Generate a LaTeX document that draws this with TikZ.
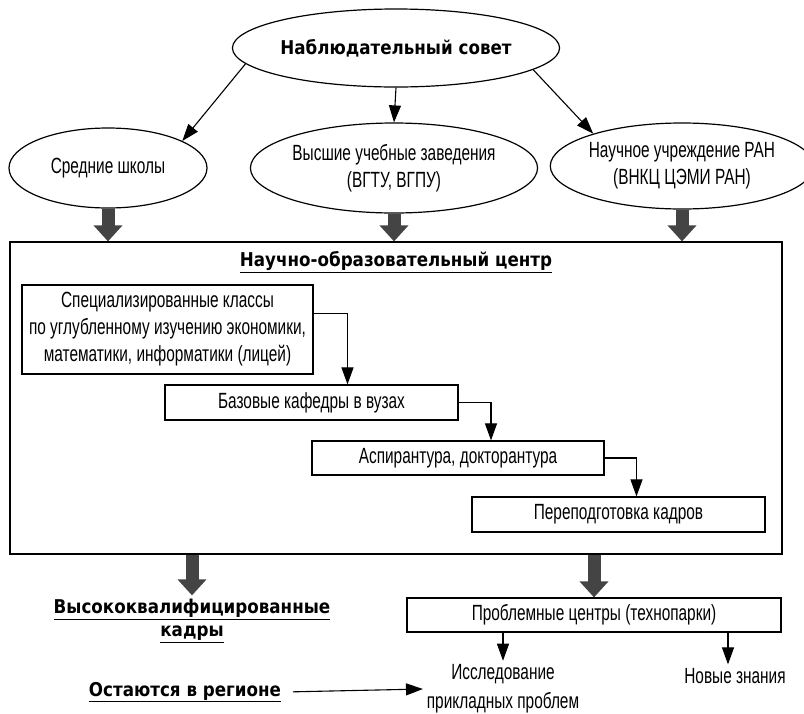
\documentclass[tikz,border=0pt]{standalone}
\usepackage{fontspec}
\setmainfont[FakeStretch=0.7]{Liberation Sans}
\newfontfamily\headfont[FakeStretch=0.88]{DejaVu Sans}
\usetikzlibrary{arrows.meta,shapes.geometric}
\definecolor{fatgray}{RGB}{68,68,68}

\begin{document}
\begin{tikzpicture}[x=1pt, y=-1pt, font=\fontsize{22}{27}\selectfont, line width=1.2pt,
  oval/.style={draw, ellipse, inner sep=0pt, align=center},
  box/.style={draw, align=center, inner sep=0pt},
  head/.style={font=\fontsize{19}{23}\selectfont\headfont\bfseries, align=center},
  arr/.style={line width=1.1pt, -{Triangle[width=12pt,length=17pt]}},
  fat/.style={fatgray, line width=13pt, -{Triangle[width=28pt,length=16pt]}}]
\useasboundingbox (0,0) rectangle (804,713);
% top level
\node[oval, head, minimum width=278pt, minimum height=78pt] (council) at (396,48) {Наблюдательный совет};
\node[oval, minimum width=198pt, minimum height=80pt] (school) at (108,168) {Средние школы};
\node[oval, minimum width=246pt, minimum height=90pt] (univ) at (394,168) {Высшие учебные заведения\\(ВГТУ, ВГПУ)};
\node[oval, minimum width=234pt, minimum height=86pt] (ran) at (682,166) {Научное учреждение РАН\\(ВНКЦ ЦЭМИ РАН)};
\draw[arr] (council.186)--(school.20); \draw[arr] (council.south)--(univ.north); \draw[arr] (council.351)--(ran.160);
% centre
\node[box, minimum width=772pt, minimum height=312pt] (nec) at (396,398) {};
\node[head] (title) at (396,262) {\underline{Научно-образовательный центр}};
\node[box, minimum width=291pt, minimum height=89pt] (classes) at (167.5,329.5) {Специализированные классы\\по углубленному изучению экономики,\\математики, информатики (лицей)};
\node[box, minimum width=293pt, minimum height=35pt] (chairs) at (311.5,402.5) {Базовые кафедры в вузах};
\node[box, minimum width=292pt, minimum height=34pt] (phd) at (458,458) {Аспирантура, докторантура};
\node[box, minimum width=293pt, minimum height=35pt] (retrain) at (618.5,514.5) {Переподготовка кадров};
\draw[arr] ([yshift=16pt]classes.east) -| ([xshift=36pt]chairs.north); \draw[arr] (chairs.east) -| ([xshift=33pt]phd.north); \draw[arr] (phd.east) -| ([xshift=18pt]retrain.north);
\draw[fat] (school.south)--(school.south |- nec.north); \draw[fat] (univ.south)--(univ.south |- nec.north); \draw[fat] (ran.south)--(ran.south |- nec.north);
% results
\node[head] (staff) at (192,621) {\underline{Высококвалифицированные}\\\underline{кадры}};
\node[box, minimum width=374pt, minimum height=34pt] (centers) at (594,615) {Проблемные центры (технопарки)};
\node[align=center, font=\fontsize{22}{29}\selectfont] (research) at (503,689) {Исследование\\прикладных проблем};
\node (knowledge) at (735,676) {Новые знания};
\node[head] (stay) at (185,692) {\underline{Остаются в регионе}};
\draw[fat] (nec.south -| staff)--(staff.north); \draw[fat] (nec.south -| centers)--(centers.north);
\draw[arr] (centers.south -| research)--(research.north); \draw[arr] ([xshift=-7pt]centers.south -| knowledge)--([xshift=-7pt]knowledge.north);
\draw[arr, shorten <=8pt] (stay.east)--(research.west);
\end{tikzpicture}
\end{document}
